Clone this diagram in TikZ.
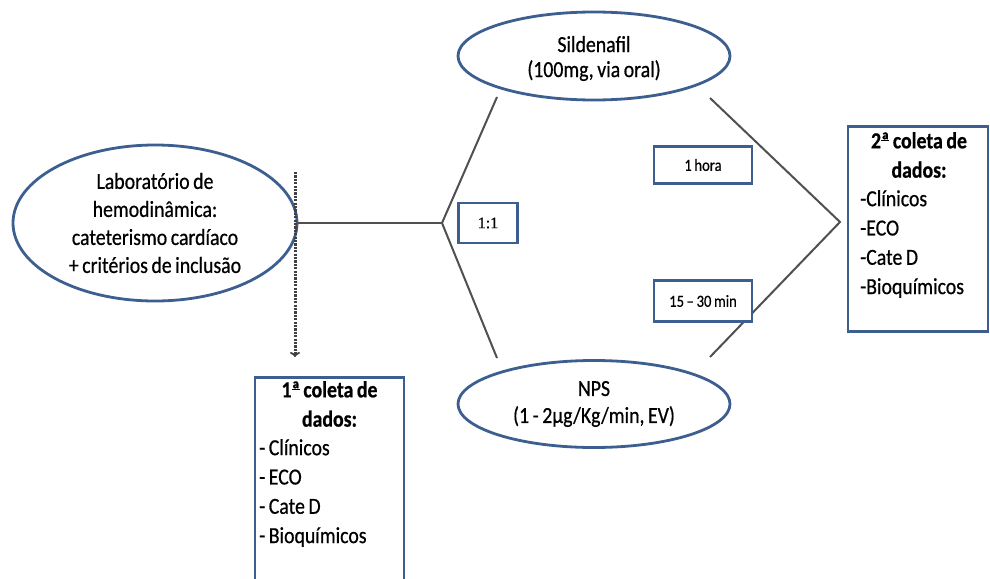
\documentclass[tikz,border=0pt]{standalone}
\usepackage{fontspec}
\setmainfont{Carlito}[FakeStretch=0.86, WordSpace=0.8, FakeBold=0.6]
\newfontfamily\serifone{Liberation Serif}[FakeBold=0.8]
\usetikzlibrary{shapes.geometric,arrows.meta}
\definecolor{bord}{HTML}{3D5F90}
\definecolor{conn}{HTML}{505050}
\newcommand{\ordA}{\rlap{\raisebox{0.3em}{\rule{0.36em}{0.07em}}}ª}
\begin{document}
\begin{tikzpicture}[x=1pt,y=-1pt,
  oval/.style={draw=bord,line width=2.8pt,ellipse,inner sep=0pt,align=center,fill=white},
  tagbox/.style={draw=bord,line width=2.8pt,inner sep=0pt,fill=white,rectangle},
  link/.style={draw=conn,line width=2pt},
  dotlink/.style={draw=black!75,line width=3pt,dash pattern=on 2.2pt off 1.2pt,-{To[length=5pt,width=10pt,line width=1.8pt]}},
  headtext/.style={inner sep=0pt,anchor=north,align=center,font=\bfseries\fontsize{23}{29.3}\selectfont},
  listtext/.style={inner sep=0pt,anchor=north west,align=left,font=\fontsize{23}{29.3}\selectfont}]
\useasboundingbox (0,0) rectangle (990,578);
\begin{scope}
\clip (0,0) rectangle (990,578);
% ellipses
\node[oval, minimum width=284pt, minimum height=156pt, font=\fontsize{23}{28}\selectfont] (lab) at (155,223)
  {Laboratório de\\hemodinâmica:\\cateterismo cardíaco\\+ critérios de inclusão};
\node[oval, minimum width=272pt, minimum height=88pt, font=\fontsize{23}{25}\selectfont] (sil) at (594,56)
  {\rule{0pt}{4pt}\\[-8pt]Sildenafil\\(100mg, via oral)};
\node[oval, minimum width=272pt, minimum height=87pt, font=\fontsize{23}{27}\selectfont] (nps) at (594,404)
  {NPS\\(1 - 2µg/Kg/min, EV)};
% connector points
\coordinate (f1) at (442,223);
\coordinate (f2) at (840,222);
\coordinate (s1) at (497,97);
\coordinate (s2) at (710,98);
\coordinate (n1) at (497,358);
\coordinate (n2) at (710,357);
\coordinate (d1) at (295,172);
\coordinate (d2) at (295,357);
\draw[link] (lab.east) -- (f1);
\draw[link] (s1) -- (f1) -- (n1);
\draw[link] (s2) -- (f2) -- (n2);
\draw[dotlink] (d1) -- (d2);
% tags
\node[tagbox, minimum width=59pt, minimum height=40pt, font=\serifone\fontsize{16}{16}\selectfont] (r11) at (488,223) {1:1};
\node[tagbox, minimum width=98pt, minimum height=37pt, font=\fontsize{17}{17}\selectfont] (t1) at (703,165) {1 hora};
\node[tagbox, minimum width=98pt, minimum height=41pt, font=\fontsize{17}{17}\selectfont] (t2) at (703,301) {15 – 30 min};
% data boxes
\node[tagbox, minimum width=149pt, minimum height=240pt, anchor=north] (c1) at (329.5,376) {};
\node[headtext] (c1h) at (329.5,381) {1\ordA{} coleta de\\dados:};
\node[listtext] (c1l) at (259,439) {- Clínicos\\- ECO\\- Cate D\\- Bioquímicos};
\node[tagbox, minimum width=140pt, minimum height=205pt, anchor=north] (c2) at (918,125) {};
\node[headtext] (c2h) at (919,132) {2\ordA{} coleta de\\dados:};
\node[listtext] (c2l) at (860,190) {-Clínicos\\-ECO\\-Cate D\\-Bioquímicos};
\end{scope}
\end{tikzpicture}
\end{document}
